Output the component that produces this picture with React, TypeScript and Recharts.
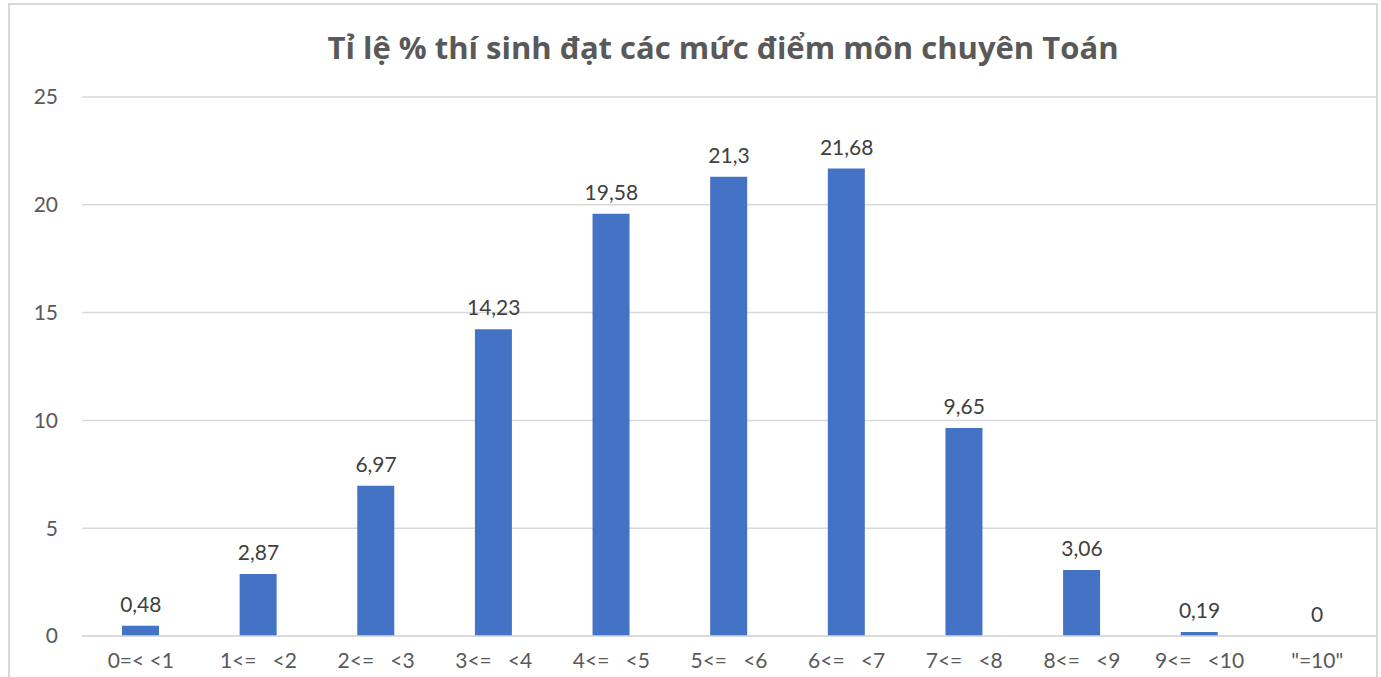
import React from 'react';
import { ComposedChart, Bar, Line, XAxis, YAxis, CartesianGrid, LabelList } from 'recharts';

// score bands and % of candidates in each
const bands = ['0=< <1', '1<=   <2', '2<=   <3', '3<=   <4', '4<=   <5', '5<=   <6', '6<=   <7', '7<=   <8', '8<=   <9', '9<=   <10', '"=10"'];
const percents = [0.48, 2.87, 6.97, 14.23, 19.58, 21.3, 21.68, 9.65, 3.06, 0.19, 0];
const yTicks = [0, 5, 10, 15, 20, 25];

const data = bands.map((b, i) => ({ band: b, value: percents[i] }));

const FONT = 'Lato, "Noto Sans", sans-serif';
const fmt = (v: any) => String(v).replace('.', ',');

const BandTick = (props: any) => {
  const { x, y, payload } = props;
  return (
    <text x={x} y={y} dy="0.71em" textAnchor="middle" fill="#595959" fontSize={21}
      fontFamily={FONT} style={{ whiteSpace: 'pre' }}>
      {payload.value}
    </text>
  );
};

export default function App() {
  return (
    <div style={{ position: 'fixed', left: 0, top: 0, width: 1381, height: 677, overflow: 'hidden', background: '#fff' }}>
      <div style={{ position: 'absolute', left: 8, top: 3, width: 1366, height: 720, border: '2px solid #d9d9d9' }} />
      <div style={{ position: 'absolute', left: 0, top: 26, width: 1446, textAlign: 'center', fontFamily: '"Open Sans", "Noto Sans", sans-serif', fontWeight: 700, fontSize: 31, color: '#595959' }}>
        Tỉ lệ % thí sinh đạt các mức điểm môn chuyên Toán
      </div>
      <div style={{ position: 'absolute', left: 0, top: 0 }}>
        <ComposedChart width={1381} height={677} data={data} margin={{ top: 97, right: 5, bottom: 0, left: 22 }} barSize={37}>
          <CartesianGrid vertical={false} stroke="#d9d9d9" strokeWidth={1.5} />
          <XAxis dataKey="band" tickLine={false} axisLine={{ stroke: '#d9d9d9', strokeWidth: 1.5 }}
            tickSize={0} tickMargin={17} tick={<BandTick />} interval={0} height={41} />
          <YAxis width={60} domain={[0, 25]} ticks={yTicks} axisLine={false} tickLine={false}
            tickSize={0} tickMargin={24} tick={{ fill: '#595959', fontSize: 21, fontFamily: FONT }} />
          <Bar dataKey="value" fill="#4472C4" isAnimationActive={false} />
          {/* invisible series carrying the value labels (also shows the 0 label) */}
          <Line dataKey="value" stroke="none" dot={false} activeDot={false} isAnimationActive={false}>
            <LabelList dataKey="value" position="top" offset={14} formatter={fmt}
              style={{ fill: '#404040', fontSize: 21, fontFamily: FONT }} />
          </Line>
        </ComposedChart>
      </div>
    </div>
  );
}
